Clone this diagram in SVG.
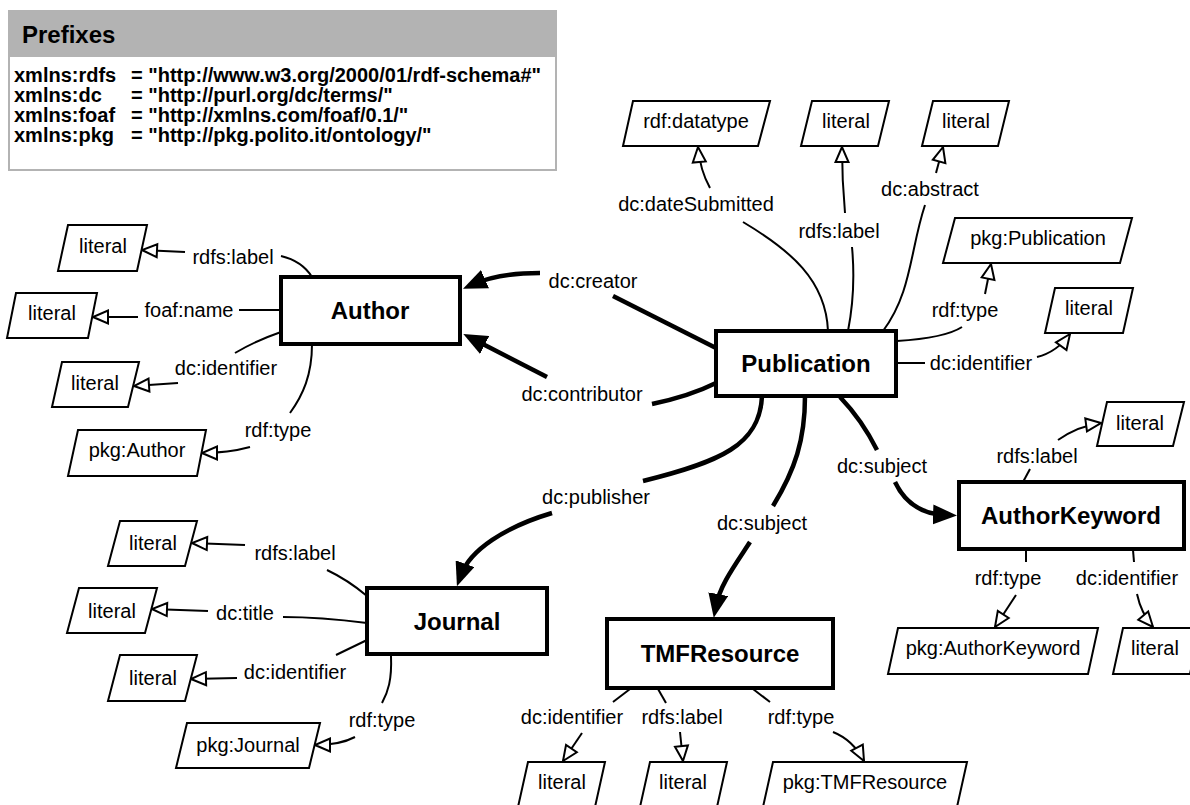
<svg xmlns="http://www.w3.org/2000/svg" width="1190" height="805" viewBox="0 0 1190 805">
<defs>
<style>
.t{font-family:"Liberation Sans",Arial,sans-serif;font-size:20px;fill:#000;text-anchor:middle}
.b{font-family:"Liberation Sans",Arial,sans-serif;font-size:24px;font-weight:bold;fill:#000;text-anchor:middle}
.p{font-family:"Liberation Sans",Arial,sans-serif;font-size:20px;font-weight:bold;fill:#000}
.box{fill:#fff;stroke:#000;stroke-width:4}
.lit{fill:#fff;stroke:#000;stroke-width:2;stroke-linejoin:miter}
.e{fill:none;stroke:#000;stroke-width:2}
.E{fill:none;stroke:#000;stroke-width:4.5}
</style>
<marker id="o" viewBox="-2 -2 20 17" refX="15" refY="6.5" markerWidth="20" markerHeight="17" markerUnits="userSpaceOnUse" orient="auto">
<path d="M15,6.5 L0,0 L0,13 Z" fill="#fff" stroke="#000" stroke-width="2"/>
</marker>
<marker id="s" viewBox="0 0 24 20" refX="12" refY="10" markerWidth="24" markerHeight="20" markerUnits="userSpaceOnUse" orient="auto">
<path d="M24,10 L0,0 L0,20 Z" fill="#000"/>
</marker>
</defs>
<rect width="1190" height="805" fill="#fff"/>

<g id="prefixes">
<rect x="9" y="11" width="547" height="159" fill="#fff" stroke="#b3b3b3" stroke-width="2"/>
<rect x="8" y="10" width="549" height="47" fill="#b3b3b3"/>
<text class="p" x="22" y="43" style="font-size:24px">Prefixes</text>
<text class="p" x="14" y="82">xmlns:rdfs</text><text class="p" x="131" y="82">= "http://www.w3.org/2000/01/rdf-schema#"</text>
<text class="p" x="14" y="102">xmlns:dc</text><text class="p" x="131" y="102">= "http://purl.org/dc/terms/"</text>
<text class="p" x="14" y="122">xmlns:foaf</text><text class="p" x="131" y="122">= "http://xmlns.com/foaf/0.1/"</text>
<text class="p" x="14" y="142">xmlns:pkg</text><text class="p" x="131" y="142">= "http://pkg.polito.it/ontology/"</text>
</g>

<g id="connectors">
<!-- Author -->
<path class="e" d="M281,256 Q302,261 312,277"/>
<path class="e" d="M185,252 L142,250" marker-end="url(#o)"/>
<path class="e" d="M281,310 L239,310"/>
<path class="e" d="M138,317 L93,317" marker-end="url(#o)"/>
<path class="e" d="M281,332 Q255,341 235,353"/>
<path class="e" d="M178,383 L134,386" marker-end="url(#o)"/>
<path class="e" d="M312,344 C312,375 303,395 290,413"/>
<path class="e" d="M250,447 Q228,453 202,453" marker-end="url(#o)"/>
<!-- Publication to Author -->
<path class="E" d="M716,348 L613,296"/>
<path class="E" d="M540,273 C508,273 490,277 474,284" marker-end="url(#s)"/>
<path class="E" d="M716,383 Q690,396 652,404"/>
<path class="E" d="M547,377 L474,339.5" marker-end="url(#s)"/>
<!-- Publication top -->
<path class="e" d="M743,222 C790,250 826,280 828,331"/>
<path class="e" d="M710,188 Q700,170 698,147" marker-end="url(#o)"/>
<path class="e" d="M852,247 Q856,290 848,331"/>
<path class="e" d="M845,213 Q842,180 842,147" marker-end="url(#o)"/>
<path class="e" d="M925,205 C910,250 912,292 883,331"/>
<path class="e" d="M936,173 L943,147" marker-end="url(#o)"/>
<path class="e" d="M897,341 Q945,338 962,327"/>
<path class="e" d="M985,294 L991,264" marker-end="url(#o)"/>
<path class="e" d="M897,363 L925,363"/>
<path class="e" d="M1037,357 Q1057,352 1070,334" marker-end="url(#o)"/>
<!-- Publication bottom -->
<path class="E" d="M762,396 C760,445 720,462 643,481"/>
<path class="E" d="M552,513 C505,527 470,550 461,575" marker-end="url(#s)"/>
<path class="E" d="M805,396 C805,440 795,470 773,506"/>
<path class="E" d="M750,542 C735,565 720,585 716,606" marker-end="url(#s)"/>
<path class="E" d="M840,397 Q862,420 877,450"/>
<path class="E" d="M895,482 C905,503 922,514 945,515" marker-end="url(#s)"/>
<!-- AuthorKeyword -->
<path class="e" d="M1023,482 L1030,469"/>
<path class="e" d="M1058,440 Q1078,426 1101,423" marker-end="url(#o)"/>
<path class="e" d="M1026,550 L1026,562"/>
<path class="e" d="M1016,595 L995,627" marker-end="url(#o)"/>
<path class="e" d="M1133,550 L1134,562"/>
<path class="e" d="M1137,594 Q1141,613 1153,627" marker-end="url(#o)"/>
<!-- Journal -->
<path class="e" d="M367,596 Q348,580 327,570"/>
<path class="e" d="M245,545 L192,543" marker-end="url(#o)"/>
<path class="e" d="M367,623 Q320,617 283,617"/>
<path class="e" d="M208,611 L152,609" marker-end="url(#o)"/>
<path class="e" d="M367,640 L336,655"/>
<path class="e" d="M237,678 L191,679" marker-end="url(#o)"/>
<path class="e" d="M391,656 C392,680 388,692 382,703"/>
<path class="e" d="M355,737 Q340,745 315,745" marker-end="url(#o)"/>
<!-- TMFResource -->
<path class="e" d="M630,689 L613,702"/>
<path class="e" d="M582,733 L563,761" marker-end="url(#o)"/>
<path class="e" d="M658,689 L666,703"/>
<path class="e" d="M680,732 L683,761" marker-end="url(#o)"/>
<path class="e" d="M753,689 L770,702"/>
<path class="e" d="M833,732 Q853,740 864,761" marker-end="url(#o)"/>
</g>

<g id="edge-labels">
<text class="t" x="233" y="264">rdfs:label</text>
<text class="t" x="189" y="317">foaf:name</text>
<text class="t" x="226" y="375">dc:identifier</text>
<text class="t" x="278" y="437">rdf:type</text>
<text class="t" x="593" y="288">dc:creator</text>
<text class="t" x="582" y="401">dc:contributor</text>
<text class="t" x="696" y="211">dc:dateSubmitted</text>
<text class="t" x="839" y="238">rdfs:label</text>
<text class="t" x="930" y="196">dc:abstract</text>
<text class="t" x="965" y="317">rdf:type</text>
<text class="t" x="981" y="370">dc:identifier</text>
<text class="t" x="596" y="504">dc:publisher</text>
<text class="t" x="762" y="530">dc:subject</text>
<text class="t" x="882" y="473">dc:subject</text>
<text class="t" x="1037" y="463">rdfs:label</text>
<text class="t" x="1008" y="585">rdf:type</text>
<text class="t" x="1127" y="585">dc:identifier</text>
<text class="t" x="295" y="560">rdfs:label</text>
<text class="t" x="245" y="620">dc:title</text>
<text class="t" x="295" y="679">dc:identifier</text>
<text class="t" x="382" y="727">rdf:type</text>
<text class="t" x="572" y="724">dc:identifier</text>
<text class="t" x="682" y="724">rdfs:label</text>
<text class="t" x="801" y="724">rdf:type</text>
</g>

<g id="author"><rect class="box" x="281" y="277" width="179" height="67"/><text class="b" x="370" y="319">Author</text></g>
<g id="publication"><rect class="box" x="716" y="331" width="180" height="65"/><text class="b" x="806" y="372">Publication</text></g>
<g id="authorkeyword"><rect class="box" x="959" y="482" width="225" height="67"/><text class="b" x="1071" y="524">AuthorKeyword</text></g>
<g id="journal"><rect class="box" x="367" y="588" width="180" height="66"/><text class="b" x="457" y="630">Journal</text></g>
<g id="tmfresource"><rect class="box" x="607" y="619" width="226" height="69"/><text class="b" x="720" y="662">TMFResource</text></g>

<g id="author-label-lit"><polygon class="lit" points="68,225 147,225 137,271 58,271"/><text class="t" x="103" y="253">literal</text></g>
<g id="author-name-lit"><polygon class="lit" points="16,293 97,293 88,338 7,338"/><text class="t" x="52" y="320">literal</text></g>
<g id="author-id-lit"><polygon class="lit" points="62,362 139,362 128,407 52,407"/><text class="t" x="95" y="390">literal</text></g>
<g id="pkg-author"><polygon class="lit" points="78,430 206,430 197,476 68,476"/><text class="t" x="137" y="457">pkg:Author</text></g>

<g id="rdf-datatype"><polygon class="lit" points="633,101 770,101 758,146 623,146"/><text class="t" x="696" y="128">rdf:datatype</text></g>
<g id="pub-label-lit"><polygon class="lit" points="812,101 889,101 878,146 801,146"/><text class="t" x="846" y="128">literal</text></g>
<g id="pub-abstract-lit"><polygon class="lit" points="933,101 1009,101 998,146 922,146"/><text class="t" x="966" y="128">literal</text></g>
<g id="pkg-publication"><polygon class="lit" points="955,218 1132,218 1120,263 943,263"/><text class="t" x="1038" y="245">pkg:Publication</text></g>
<g id="pub-id-lit"><polygon class="lit" points="1055,288 1133,288 1123,333 1045,333"/><text class="t" x="1089" y="315">literal</text></g>

<g id="ak-label-lit"><polygon class="lit" points="1107,402 1184,402 1173,446 1097,446"/><text class="t" x="1140" y="430">literal</text></g>
<g id="pkg-authorkeyword"><polygon class="lit" points="898,628 1098,628 1088,674 888,674"/><text class="t" x="993" y="655">pkg:AuthorKeyword</text></g>
<g id="ak-id-lit"><polygon class="lit" points="1123,628 1200,628 1190,674 1113,674"/><text class="t" x="1155" y="655">literal</text></g>

<g id="journal-label-lit"><polygon class="lit" points="120,521 197,521 185,566 108,566"/><text class="t" x="153" y="550">literal</text></g>
<g id="journal-title-lit"><polygon class="lit" points="79,588 157,588 145,633 67,633"/><text class="t" x="112" y="618">literal</text></g>
<g id="journal-id-lit"><polygon class="lit" points="120,655 197,655 185,701 108,701"/><text class="t" x="153" y="685">literal</text></g>
<g id="pkg-journal"><polygon class="lit" points="187,723 320,723 309,768 176,768"/><text class="t" x="248" y="752">pkg:Journal</text></g>

<g id="tmf-id-lit"><polygon class="lit" points="528,762 605,762 595,807 518,807"/><text class="t" x="562" y="789">literal</text></g>
<g id="tmf-label-lit"><polygon class="lit" points="650,762 727,762 717,807 640,807"/><text class="t" x="683" y="789">literal</text></g>
<g id="pkg-tmfresource"><polygon class="lit" points="773,762 967,762 957,807 763,807"/><text class="t" x="865" y="789">pkg:TMFResource</text></g>
</svg>
